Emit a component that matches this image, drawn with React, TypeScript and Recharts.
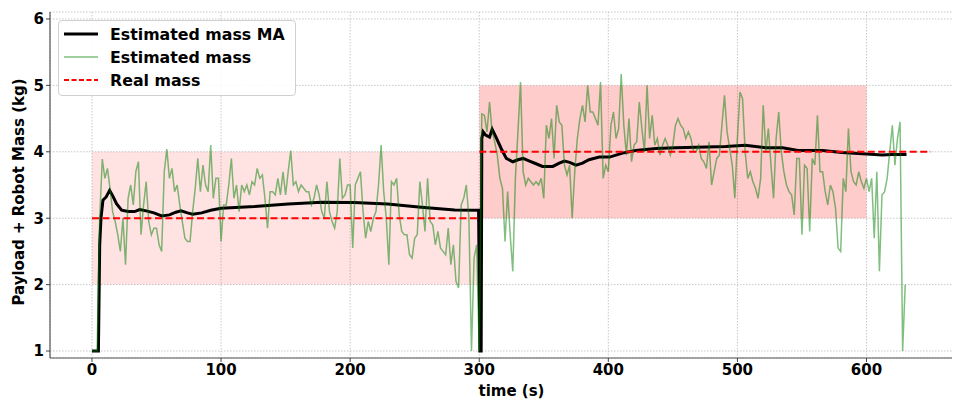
import React from "react";
import {
  LineChart,
  Line,
  XAxis,
  YAxis,
  CartesianGrid,
  ReferenceArea,
  Label,
} from "recharts";

// estimated mass, one sample every 2 s (0 .. 630 s)
const SAMPLE_STEP = 2;
const estMass0to100 = [
  1.0, 1.0, 1.0, 3.0, 3.89, 3.6, 3.75, 3.45, 3.1, 2.95, 2.75, 2.5, 3.0, 2.3, 3.3, 3.5,
  3.2, 3.7, 3.85, 2.75, 3.2, 3.55, 2.95, 2.75, 2.85, 2.85, 2.6, 2.5, 3.7, 4.04, 3.6,
  3.75, 3.4, 3.5, 3.2, 2.95, 2.7, 2.65, 2.65, 3.1, 3.45, 3.9, 3.4, 3.8, 3.5, 3.4, 4.1,
  3.3, 3.6, 3.6, 2.65,
];
const estMass100to200 = [
  3.2, 3.2, 3.5, 3.9, 3.3, 3.5, 3.1, 3.5, 3.4, 3.5, 3.35, 3.55, 3.5, 3.75, 3.6, 3.65,
  3.3, 2.85, 3.4, 3.4, 3.35, 3.6, 3.35, 3.7, 3.35, 3.7, 4.02, 3.5, 3.55, 3.4, 3.5, 3.45,
  3.4, 3.4, 3.2, 3.3, 3.5, 3.35, 3.1, 3.0, 3.55, 3.1, 2.95, 2.85, 3.1, 3.9, 3.3, 3.35,
  3.5, 3.5,
];
const estMass200to300 = [
  2.55, 3.5, 3.6, 3.7, 3.1, 2.7, 2.95, 2.8, 3.0, 3.1, 3.5, 4.1, 3.4, 3.0, 2.3, 3.55,
  3.5, 3.6, 3.05, 2.8, 2.75, 2.75, 2.45, 2.4, 2.7, 2.75, 3.55, 3.2, 2.8, 3.6, 2.95, 2.9,
  2.6, 2.8, 2.55, 2.5, 2.45, 2.85, 2.3, 2.6, 2.05, 1.95, 3.2, 3.3, 3.5, 3.0, 1.0, 2.4,
  2.6, 1.0,
];
const estMass300to400 = [
  4.57, 4.55, 4.3, 4.75, 4.3, 4.15, 3.95, 3.6, 3.45, 2.65, 3.4, 2.75, 2.2, 3.6, 4.3,
  5.05, 3.7, 3.5, 3.6, 3.55, 3.5, 3.55, 3.5, 3.6, 3.3, 4.4, 4.2, 4.5, 3.9, 4.7, 4.45,
  4.4, 3.8, 3.65, 3.8, 3.0, 3.7, 4.2, 4.5, 4.7, 4.45, 5.0, 4.6, 4.6, 4.5, 4.4, 5.05,
  3.6, 3.8, 3.7,
];
const estMass400to500 = [
  4.4, 4.6, 4.2, 4.35, 5.17, 4.4, 3.95, 4.5, 3.85, 4.1, 4.15, 4.75, 4.35, 4.0, 5.0,
  4.2, 4.55, 4.1, 4.2, 3.95, 4.1, 4.2, 4.1, 3.95, 4.1, 4.4, 4.5, 4.4, 4.35, 4.2, 4.3,
  4.2, 4.0, 4.0, 4.1, 3.9, 3.85, 3.75, 4.15, 3.5, 3.7, 3.9, 3.95, 4.4, 4.85, 4.3, 4.05,
  3.8, 3.3, 4.2,
];
const estMass500to630 = [
  4.9, 4.8, 4.0, 3.6, 3.7, 3.55, 3.45, 3.3, 3.6, 4.7, 4.0, 4.35, 3.8, 3.3, 4.2, 4.6,
  4.0, 3.7, 3.5, 3.4, 3.35, 3.05, 3.9, 3.9, 2.75, 3.8, 3.75, 2.8, 3.9, 3.8, 4.55, 3.7,
  3.7, 3.4, 3.2, 3.5, 3.4, 3.15, 2.55, 2.5, 3.6, 3.4, 4.35, 3.7, 3.55, 3.5, 3.7, 3.55,
  3.45, 3.6, 3.4, 3.6, 2.7, 3.7, 2.2, 3.35, 3.4, 3.6, 4.0, 4.4, 3.8, 4.2, 4.45, 1.0,
  2.0,
];

// moving average of the estimate
const maTime = [
  0, 5, 6, 7, 8.5, 11, 13.7, 16, 19, 23, 28, 33, 37, 42, 48, 54, 60, 65, 69, 74, 78,
  85, 92, 100, 126, 152, 178, 203, 229, 255, 281, 299.5, 300.5, 301.5, 302, 303, 305,
  308, 310, 313, 317, 321, 326, 330, 334, 339, 344, 349, 357, 362, 366, 370, 375, 380,
  385, 393, 401, 411, 421, 437, 452, 468, 491, 506, 522, 535, 547, 566, 581, 597, 612,
  620, 631,
];
const maMass = [
  1.0, 1.0, 2.6, 3.0, 3.27, 3.32, 3.42, 3.34, 3.22, 3.12, 3.1, 3.1, 3.13, 3.11, 3.08,
  3.035, 3.05, 3.09, 3.11, 3.08, 3.06, 3.08, 3.12, 3.15, 3.175, 3.215, 3.24, 3.235,
  3.215, 3.165, 3.125, 3.12, 1.0, 1.0, 4.2, 4.3, 4.25, 4.22, 4.34, 4.22, 4.05, 3.9,
  3.85, 3.88, 3.9, 3.86, 3.82, 3.78, 3.78, 3.83, 3.86, 3.84, 3.8, 3.83, 3.88, 3.92,
  3.92, 3.98, 4.02, 4.05, 4.06, 4.07, 4.08, 4.1, 4.06, 4.06, 4.02, 4.02, 3.99, 3.97,
  3.95, 3.96, 3.96,
];

// true payload + robot mass (null = break between the two phases)
const realTime = [0, 300, 300, 300, 650];
const realMass: (number | null)[] = [3, 3, null, 4, 4];

const xTicks = [0, 100, 200, 300, 400, 500, 600];
const yTicks = [1, 2, 3, 4, 5, 6];

const estMass = [
  ...estMass0to100,
  ...estMass100to200,
  ...estMass200to300,
  ...estMass300to400,
  ...estMass400to500,
  ...estMass500to630,
];
const estData = estMass.map((v, i) => ({ t: i * SAMPLE_STEP, v }));
const maData = maTime.map((t, i) => ({ t, v: maMass[i] }));
const realData = realTime.map((t, i) => ({ t, v: realMass[i] }));

const FONT = "'DejaVu Sans', sans-serif";
const tickStyle = { fontFamily: FONT, fontSize: 15, fontWeight: "bold", fill: "#000" };

const LegendBox = () => {
  const rows = [
    { label: "Estimated mass MA", color: "#000", width: 3, dash: undefined },
    { label: "Estimated mass", color: "rgba(0,128,0,0.5)", width: 1.5, dash: undefined },
    { label: "Real mass", color: "red", width: 2, dash: "5 2.5" },
  ];
  return (
    <div
      style={{
        position: "absolute",
        left: 58,
        top: 20,
        width: 238,
        height: 76,
        background: "rgba(255,255,255,0.85)",
        border: "1px solid #d0d0d0",
        borderRadius: 4,
        boxSizing: "border-box",
        fontFamily: FONT,
        fontWeight: "bold",
        fontSize: 15.8,
      }}
    >
      {rows.map((r, i) => (
        <div
          key={r.label}
          style={{ position: "absolute", left: 4, top: 3 + i * 23, height: 20, display: "flex", alignItems: "center" }}
        >
          <svg width={36} height={20}>
            <line x1={1} y1={10} x2={35} y2={10} stroke={r.color} strokeWidth={r.width} strokeDasharray={r.dash} />
          </svg>
          <span style={{ marginLeft: 11 }}>{r.label}</span>
        </div>
      ))}
    </div>
  );
};

const YTitle = (props: any) => {
  const vb = props.viewBox || { y: 12, height: 346 };
  const cy = vb.y + vb.height / 2 + 7;
  return (
    <text
      x={19}
      y={cy}
      transform={`rotate(-90, 19, ${cy})`}
      textAnchor="middle"
      dominantBaseline="central"
      style={{ fontFamily: FONT, fontSize: 15, fontWeight: "bold", fill: "#000" }}
    >
      Payload + Robot Mass  (kg)
    </text>
  );
};

export default function App() {
  return (
    <div style={{ position: "relative", margin: "-8px 0 0 -8px", width: 960, height: 400, overflow: "hidden", background: "#fff" }}>
      <LineChart width={980} height={400} margin={{ top: 12, right: 7, left: 0, bottom: 0 }}>
        <CartesianGrid stroke="#c8c8c8" strokeDasharray="1.5 1.5" />
        <XAxis
          xAxisId="top"
          orientation="top"
          type="number"
          domain={[-32.5, 682.5]}
          height={0}
          tick={false}
          tickLine={false}
          axisLine={{ stroke: "#222", strokeWidth: 1.2 }}
        />
        <XAxis
          dataKey="t"
          type="number"
          domain={[-32.5, 682.5]}
          allowDataOverflow
          ticks={xTicks}
          height={42}
          tick={tickStyle}
          tickLine={{ stroke: "#444" }}
          tickSize={4}
          axisLine={{ stroke: "#555", strokeWidth: 1.2 }}
        >
          <Label value="time (s)" position="insideBottom" offset={4} style={{ fontFamily: FONT, fontSize: 15, fontWeight: "bold", fill: "#000" }} />
        </XAxis>
        <YAxis
          type="number"
          domain={[0.895, 6.105]}
          allowDataOverflow
          ticks={yTicks}
          width={50}
          tick={tickStyle}
          tickLine={{ stroke: "#444" }}
          tickSize={4}
          axisLine={{ stroke: "#555", strokeWidth: 1.2 }}
        >
          <Label content={<YTitle />} />
        </YAxis>
        <ReferenceArea x1={0} x2={300} y1={2} y2={4} fill="#ff0000" fillOpacity={0.11} stroke="none" />
        <ReferenceArea x1={300} x2={600} y1={3} y2={5} fill="#ff0000" fillOpacity={0.2} stroke="none" />
        <Line data={maData} dataKey="v" type="linear" stroke="#000" strokeWidth={3} dot={false} isAnimationActive={false} />
        <Line data={estData} dataKey="v" type="linear" stroke="green" strokeOpacity={0.5} strokeWidth={1.5} dot={false} isAnimationActive={false} />
        <Line data={realData} dataKey="v" type="linear" stroke="red" strokeWidth={2} strokeDasharray="7 3.5" dot={false} isAnimationActive={false} />
      </LineChart>
      <LegendBox />
    </div>
  );
}
